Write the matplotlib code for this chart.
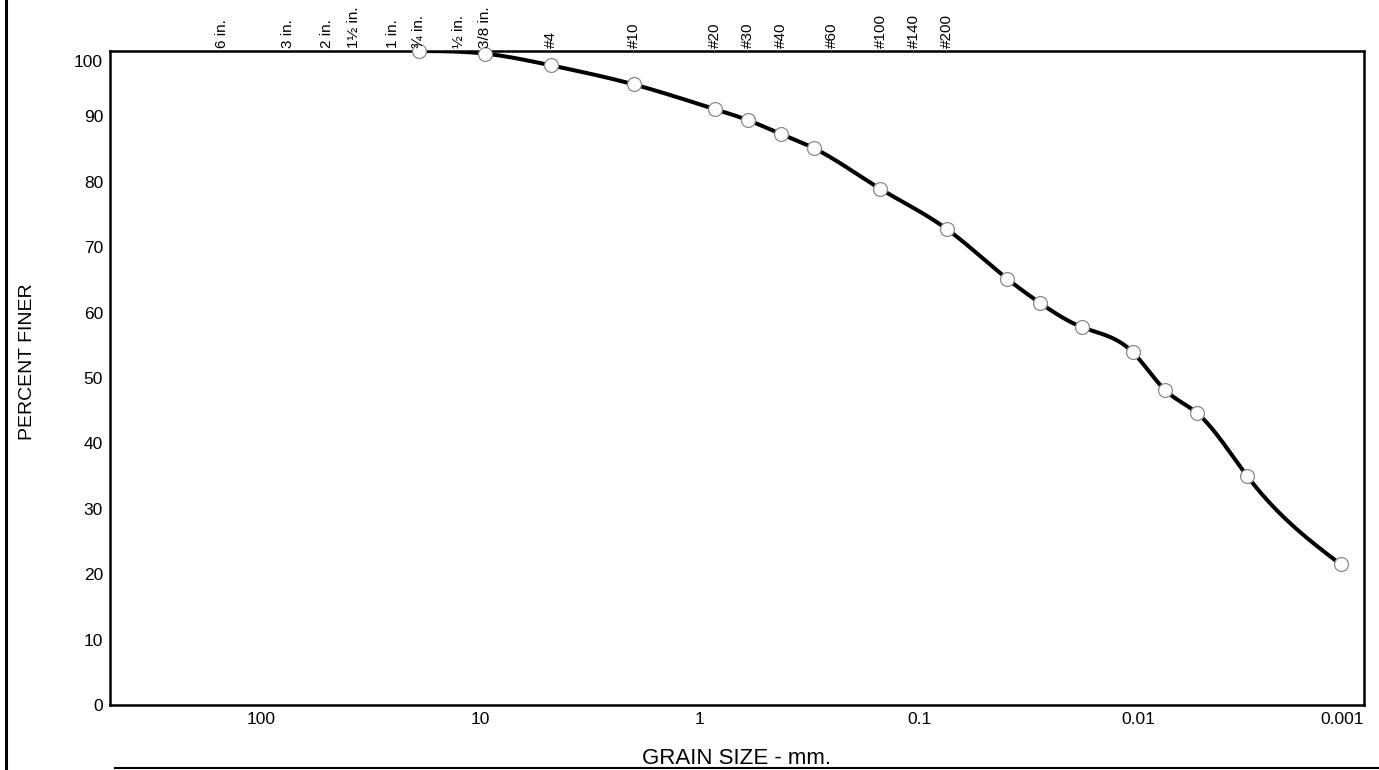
import numpy as np
import matplotlib
matplotlib.use("Agg")
import matplotlib.pyplot as plt
from matplotlib.lines import Line2D
from matplotlib.transforms import ScaledTranslation, blended_transform_factory

# Grain size (mm) and percent finer
grain_size = [19.0, 9.5, 4.75, 2.0, 0.85, 0.6, 0.425, 0.3, 0.15, 0.075,
              0.0398, 0.0282, 0.0182, 0.0106, 0.0076, 0.0054, 0.0032, 0.0012]
percent_finer = [100.0, 99.6, 97.8, 94.9, 91.1, 89.4, 87.3, 85.1, 78.9, 72.8,
                 65.2, 61.5, 57.8, 53.9, 48.2, 44.6, 35.0, 21.5]

# Sieve labels along the top
sieve_sizes = [150, 75, 50, 37.5, 25, 19, 12.5, 9.5, 4.75, 2.0, 0.85, 0.6,
               0.425, 0.25, 0.15, 0.106, 0.075]
sieve_labels = ["6 in.", "3 in.", "2 in.", "1\u00bd in.", "1 in.", "\u00be in.",
                "\u00bd in.", "3/8 in.", "#4", "#10", "#20", "#30", "#40",
                "#60", "#100", "#140", "#200"]

x_ticks = [100, 10, 1, 0.1, 0.01, 0.001]
x_tick_labels = ["100", "10", "1", "0.1", "0.01", "0.001"]
y_ticks = [0, 10, 20, 30, 40, 50, 60, 70, 80, 90, 100]


def natural_spline(x, y, xn):
    # natural cubic spline through the measured points (only for drawing the curve)
    x = np.asarray(x, float)
    y = np.asarray(y, float)
    n = len(x)
    h = np.diff(x)
    A = np.zeros((n, n))
    b = np.zeros(n)
    A[0, 0] = A[-1, -1] = 1.0
    for i in range(1, n - 1):
        A[i, i - 1] = h[i - 1]
        A[i, i] = 2 * (h[i - 1] + h[i])
        A[i, i + 1] = h[i]
        b[i] = 3 * ((y[i + 1] - y[i]) / h[i] - (y[i] - y[i - 1]) / h[i - 1])
    c = np.linalg.solve(A, b)
    bb = (y[1:] - y[:-1]) / h - h * (2 * c[:-1] + c[1:]) / 3
    dd = (c[1:] - c[:-1]) / (3 * h)
    idx = np.clip(np.searchsorted(x, xn) - 1, 0, n - 2)
    t = xn - x[idx]
    return y[idx] + bb[idx] * t + c[idx] * t**2 + dd[idx] * t**3


plt.rcParams["font.family"] = ["Liberation Sans", "DejaVu Sans"]

fig = plt.figure(figsize=(13.79, 7.70), dpi=100)
ax = fig.add_axes([110 / 1379, 1 - 705 / 770, (1364 - 110) / 1379, (705 - 51) / 770])

u = -np.log10(grain_size)
un = np.linspace(u[0], u[-1], 800)
yn = np.minimum(natural_spline(u, percent_finer, un), 100)
ax.plot(10 ** (-un), yn, color="black", lw=2.9, solid_capstyle="round", zorder=2)
ax.plot(grain_size, percent_finer, "o", ms=10, mfc="white", mec="#8a8a8a",
        mew=0.9, zorder=3, clip_on=False)

ax.set_xscale("log")
ax.set_xlim(486, 0.00094)
ax.set_ylim(0, 100)
ax.set_xticks(x_ticks)
ax.set_xticklabels(x_tick_labels)
ax.minorticks_off()
ax.set_yticks(y_ticks)
ax.tick_params(length=0, labelsize=12.5, pad=5)

for spine in ax.spines.values():
    spine.set_linewidth(1.8)

# nudge the corner tick labels inward like the original
ax.get_yticklabels()[-1].set_transform(
    ax.get_yticklabels()[-1].get_transform() + ScaledTranslation(0, -10 / 100, fig.dpi_scale_trans))
ax.get_xticklabels()[-1].set_transform(
    ax.get_xticklabels()[-1].get_transform() + ScaledTranslation(-16 / 100, 0, fig.dpi_scale_trans))

trans = blended_transform_factory(ax.transData, ax.transAxes)
for size, lab in zip(sieve_sizes, sieve_labels):
    t = ax.text(size, 1.0, lab, rotation=90, ha="center", va="bottom", fontsize=11)
    t.set_transform(trans + ScaledTranslation(0, 3 / 100, fig.dpi_scale_trans))

fig.text(28 / 1379, 1 - 362 / 770, "PERCENT FINER", rotation=90, ha="center",
         va="center", fontsize=14)
fig.text(737 / 1379, 1 - 758 / 770, "GRAIN SIZE - mm.", ha="center",
         va="center", fontsize=16)

# scanned page frame lines
fig.add_artist(Line2D([6 / 1379, 6 / 1379], [0, 1], color="black", lw=2.2))
fig.add_artist(Line2D([115 / 1379, 1], [1 - 768 / 770] * 2, color="black", lw=1.5))

fig.savefig("out.png", dpi=100)
